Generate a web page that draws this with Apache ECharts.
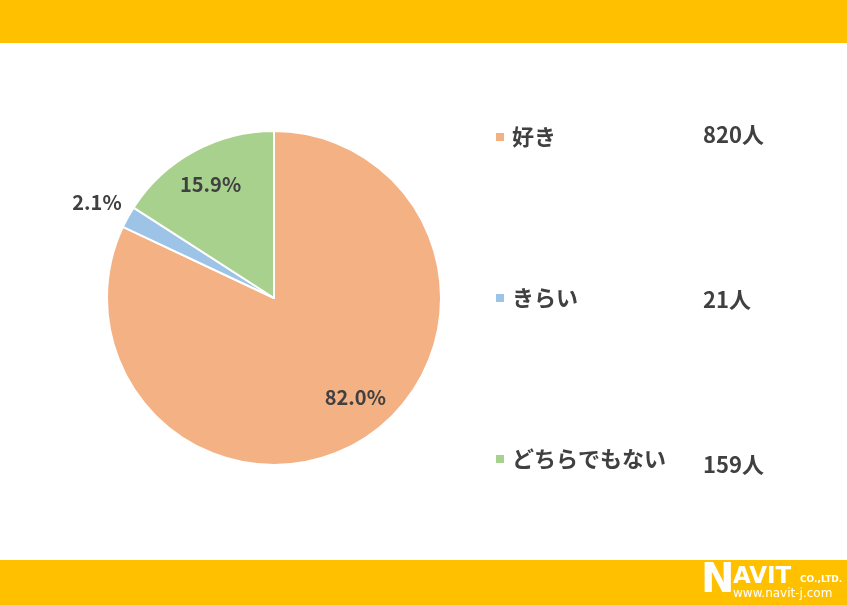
<!DOCTYPE html>
<html><head><meta charset="utf-8">
<script src="https://cdn.jsdelivr.net/npm/echarts@6/dist/echarts.min.js"></script>
<style>html,body{margin:0;padding:0;background:#fff}#c{width:847px;height:605px}</style>
</head><body><div id="c"></div>
<script>
const categories = ['好き', 'きらい', 'どちらでもない'];
const counts = [820, 21, 159];
const percents = [82.0, 2.1, 15.9];
const colors = ['#F4B183', '#9DC3E6', '#A9D18E'];
const countLabels = ['820人', '21人', '159人'];

const FONT = '"Noto Sans CJK JP", "Noto Sans", sans-serif';
const labelOffsets = [[35, 26], [18, -4], [-22, -38]];
const countLeft = 703;
const rowY = [135, 300, 465];

const chart = echarts.init(document.getElementById('c'));
chart.setOption({
  animation: false,
  backgroundColor: '#ffffff',
  legend: {
    orient: 'vertical', left: 489, top: 121,
    itemWidth: 10, itemHeight: 10, itemGap: 139, icon: 'rect',
    textStyle: { fontFamily: FONT, fontSize: 22, fontWeight: 'bold', color: '#404040', padding: [0, 0, 0, 2] },
    data: categories
  },
  graphic: [
    { type: 'rect', left: 0, top: 0, shape: { width: 847, height: 43 }, style: { fill: '#FFC000' } },
    { type: 'rect', left: 0, top: 560, shape: { width: 847, height: 45 }, style: { fill: '#FFC000' } },
    ...countLabels.map((t, i) => ({
      type: 'text', x: countLeft, y: rowY[i],
      style: { text: t, fill: '#404040', font: 'bold 22px ' + FONT, textAlign: 'left', textVerticalAlign: 'middle' }
    })),
    { type: 'text', x: 701, y: 582, style: { text: 'N', fill: '#fff', font: 'bold 40px "DejaVu Sans", sans-serif', textVerticalAlign: 'middle' } },
    { type: 'text', x: 733, y: 577, style: { text: 'AVIT', fill: '#fff', font: 'bold 23px "DejaVu Sans", sans-serif', textVerticalAlign: 'middle' } },
    { type: 'text', x: 800, y: 580, style: { text: 'CO.,LTD.', fill: '#fff', font: 'bold 9px "DejaVu Sans", sans-serif', textVerticalAlign: 'middle' } },
    { type: 'text', x: 733, y: 594, style: { text: 'www.navit-j.com', fill: '#fff', font: '12px "DejaVu Sans", sans-serif', textVerticalAlign: 'middle' } }
  ],
  series: [{
    type: 'pie',
    center: [274, 298], radius: 167,
    startAngle: 90, clockwise: true,
    itemStyle: { borderColor: '#ffffff', borderWidth: 2 },
    labelLine: { show: false, length: 22, length2: 0 },
    data: categories.map((n, i) => ({
      name: n, value: counts[i],
      itemStyle: { color: colors[i] },
      label: i === 1
        ? { position: 'outside', show: true, offset: labelOffsets[i] }
        : { position: 'inside', show: true, offset: labelOffsets[i] }
    })),
    label: {
      formatter: p => percents[p.dataIndex].toFixed(1) + '%',
      fontFamily: FONT, fontSize: 20, fontWeight: 'bold', color: '#404040'
    },
    emphasis: { disabled: true }
  }]
});
</script></body></html>
